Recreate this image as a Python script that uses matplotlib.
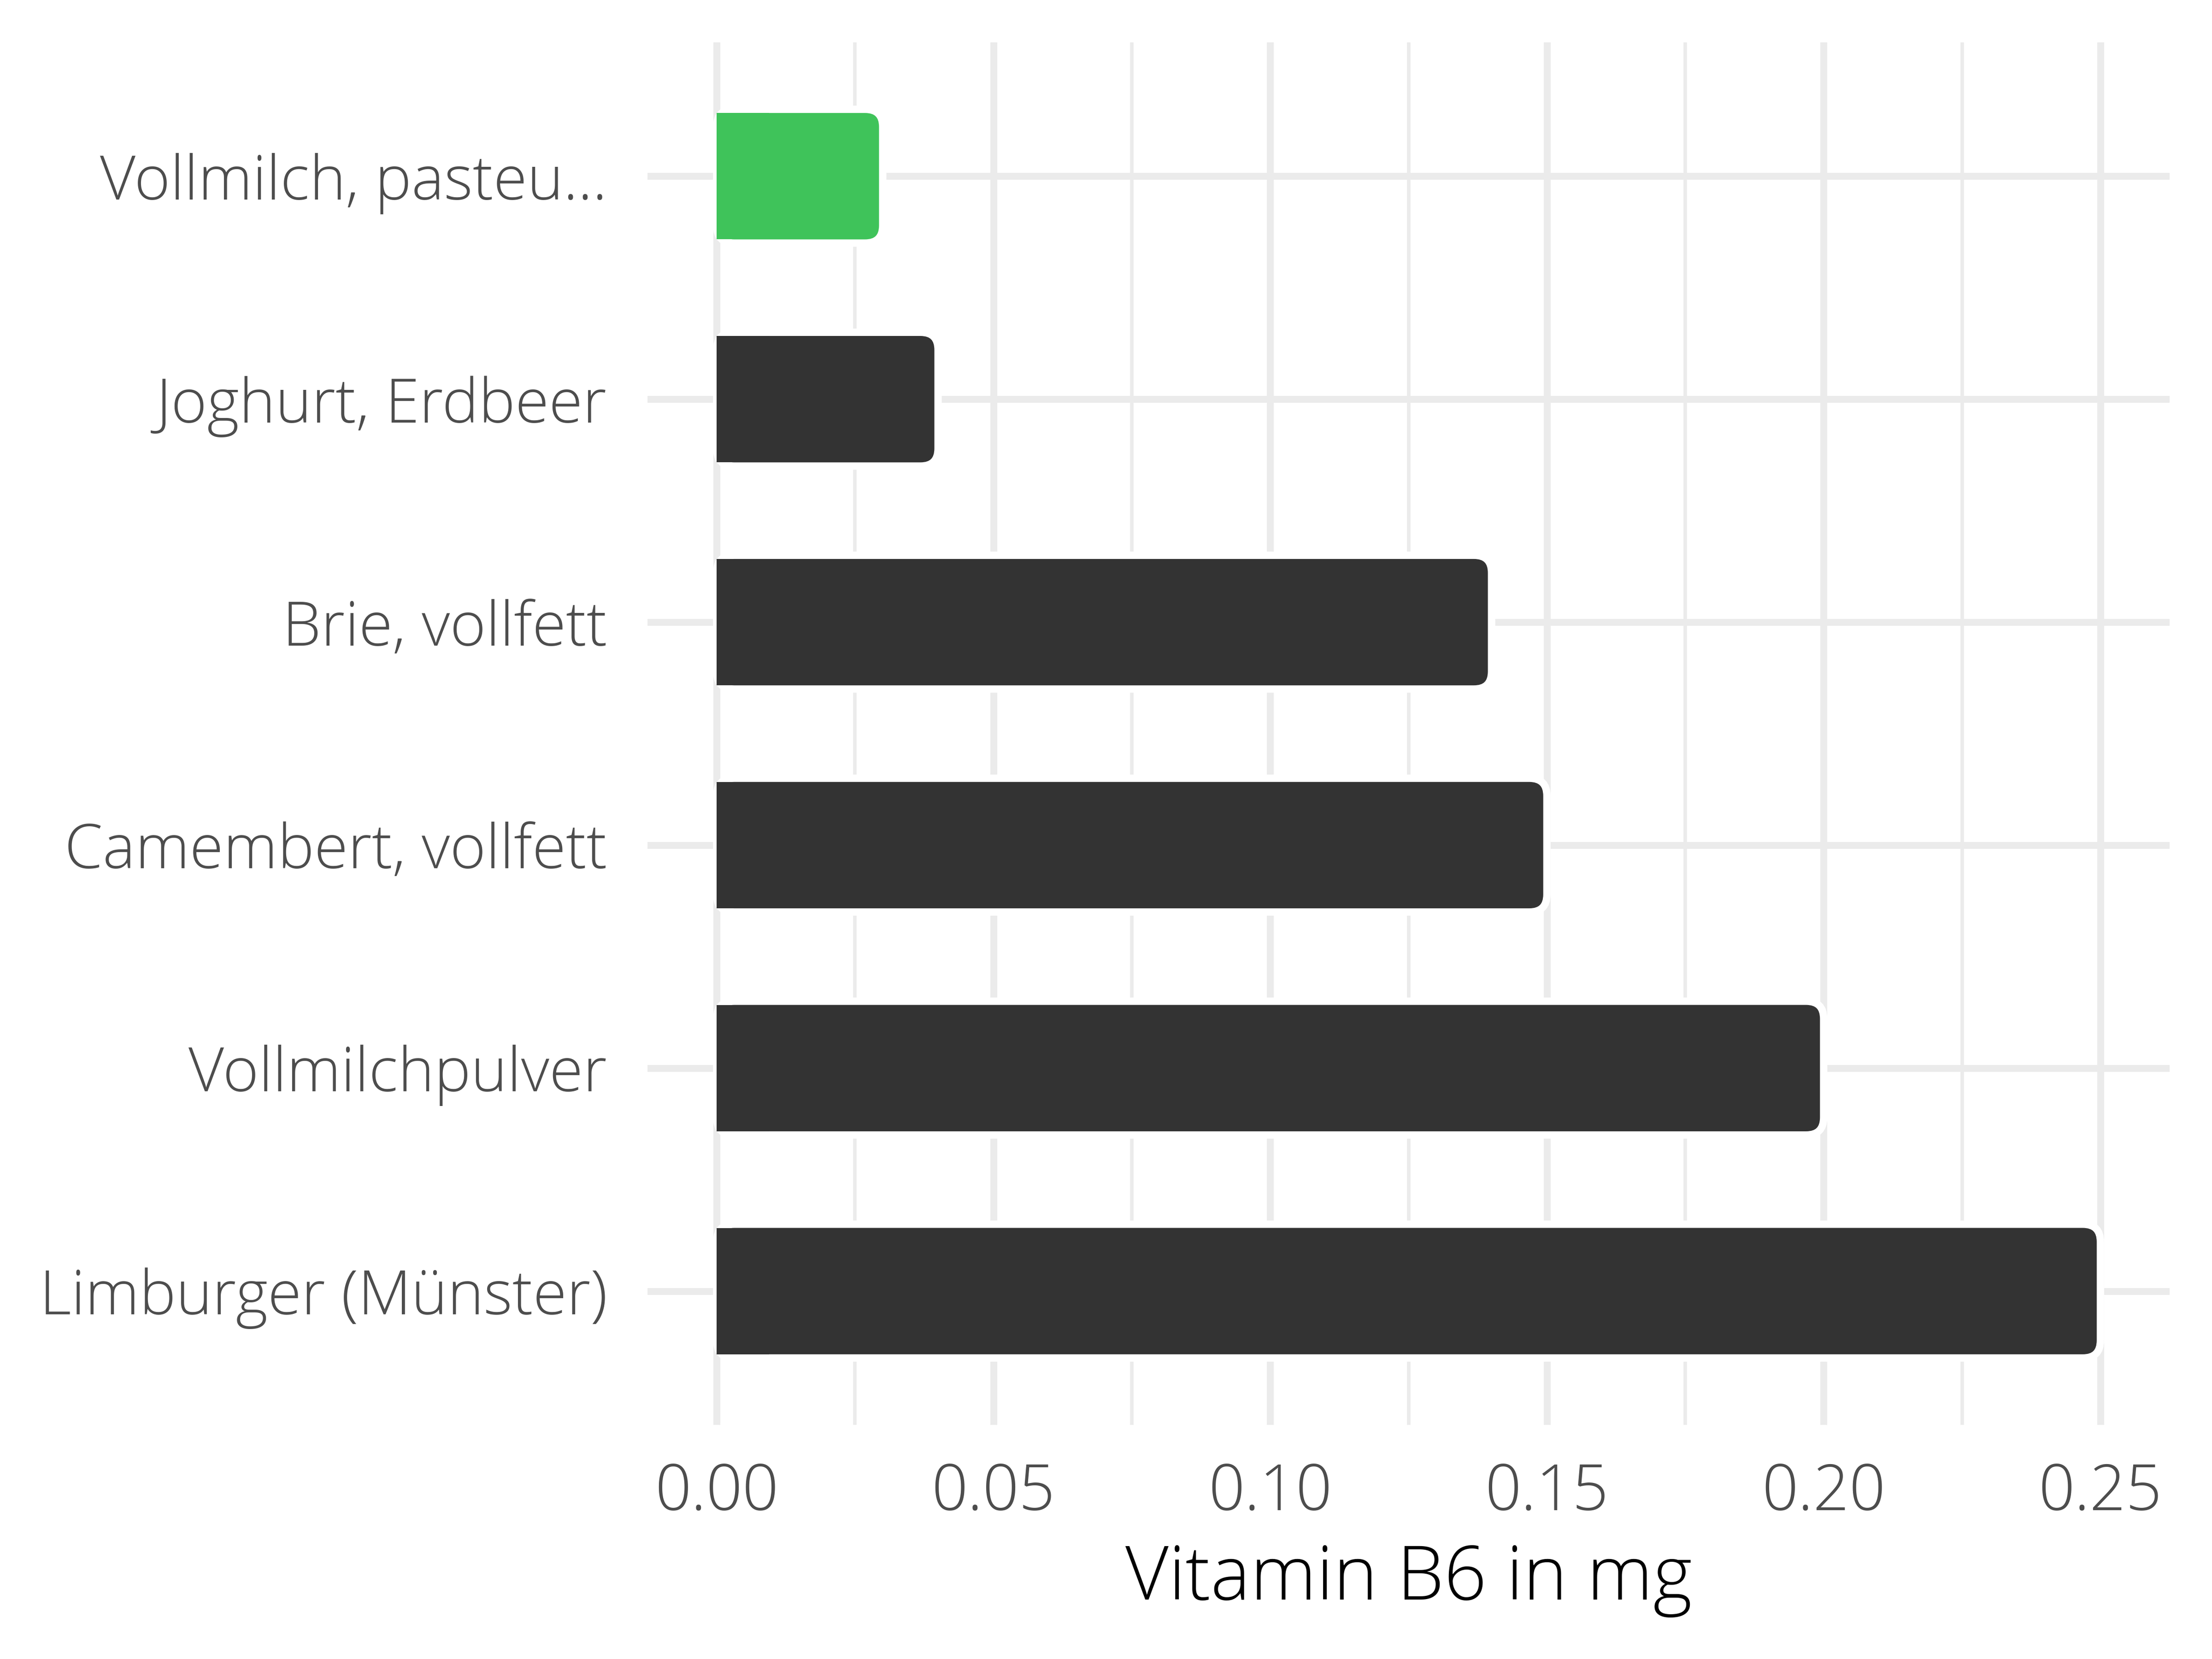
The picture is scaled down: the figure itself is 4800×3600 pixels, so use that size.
import matplotlib
matplotlib.use("Agg")
import matplotlib.pyplot as plt
from matplotlib.patches import FancyBboxPatch, Rectangle
from matplotlib.ticker import MultipleLocator

categories = ["Limburger (Münster)", "Vollmilchpulver", "Camembert, vollfett",
              "Brie, vollfett", "Joghurt, Erdbeer", "Vollmilch, pasteu..."]
values = [0.25, 0.20, 0.15, 0.14, 0.04, 0.03]
colors = ["#333333", "#333333", "#333333", "#333333", "#333333", "#3fc35a"]
xticks = [0.00, 0.05, 0.10, 0.15, 0.20, 0.25]
xticklabels = ["0.00", "0.05", "0.10", "0.15", "0.20", "0.25"]
xlabel = "Vitamin B6 in mg"

FONT = ["Open Sans", "DejaVu Sans"]
plt.rcParams["font.family"] = FONT

fig = plt.figure(figsize=(16, 12), dpi=300)
L, R, B, T = 1405 / 4800, 4708 / 4800, 1 - 3092 / 3600, 1 - 92 / 3600
ax = fig.add_axes([L, B, R - L, T - B])

xmin, xmax = -0.0125, 0.2625
ymin, ymax = 0.4, len(categories) + 0.6
ax.set_xlim(xmin, xmax)
ax.set_ylim(ymin, ymax)

for s in ax.spines.values():
    s.set_visible(False)

ax.set_xticks(xticks)
ax.set_xticklabels(xticklabels)
ax.xaxis.set_minor_locator(MultipleLocator(0.025))
ypos = list(range(1, len(categories) + 1))
ax.set_yticks(ypos)
ax.set_yticklabels(categories)

ax.grid(True, which="major", color="#ebebeb", linewidth=3.6)
ax.grid(True, which="minor", axis="x", color="#ebebeb", linewidth=1.8)
ax.set_axisbelow(True)
ax.tick_params(axis="both", which="both", length=0)
ax.tick_params(axis="y", pad=21, labelsize=32, labelcolor="#4d4d4d")
ax.tick_params(axis="x", pad=19, labelsize=33, labelcolor="#4d4d4d")
for lab in ax.get_xticklabels() + ax.get_yticklabels():
    lab.set_fontweight("light")

ax.set_xlabel(xlabel, fontsize=39, color="black", fontweight="light", labelpad=9)

# pixel scales
axw_px = (R - L) * 4800
axh_px = (T - B) * 3600
x_per_px = (xmax - xmin) / axw_px
y_per_px = (ymax - ymin) / axh_px
r_px = 38
rx = r_px * x_per_px
aspect = y_per_px / x_per_px
h = 0.6
lw = 16 / 300 * 72

for y, v, c in zip(ypos, values, colors):
    p = FancyBboxPatch((0, y - h / 2), v, h,
                       boxstyle=f"round,pad=0,rounding_size={rx}",
                       mutation_aspect=aspect,
                       facecolor=c, edgecolor="white", linewidth=lw, zorder=3)
    ax.add_patch(p)
    sq = Rectangle((0, y - h / 2 + 8 * y_per_px), min(v / 2, 3 * rx),
                   h - 16 * y_per_px, facecolor=c, edgecolor="none", zorder=4)
    ax.add_patch(sq)

fig.savefig("out.png", dpi=300, facecolor="white")
